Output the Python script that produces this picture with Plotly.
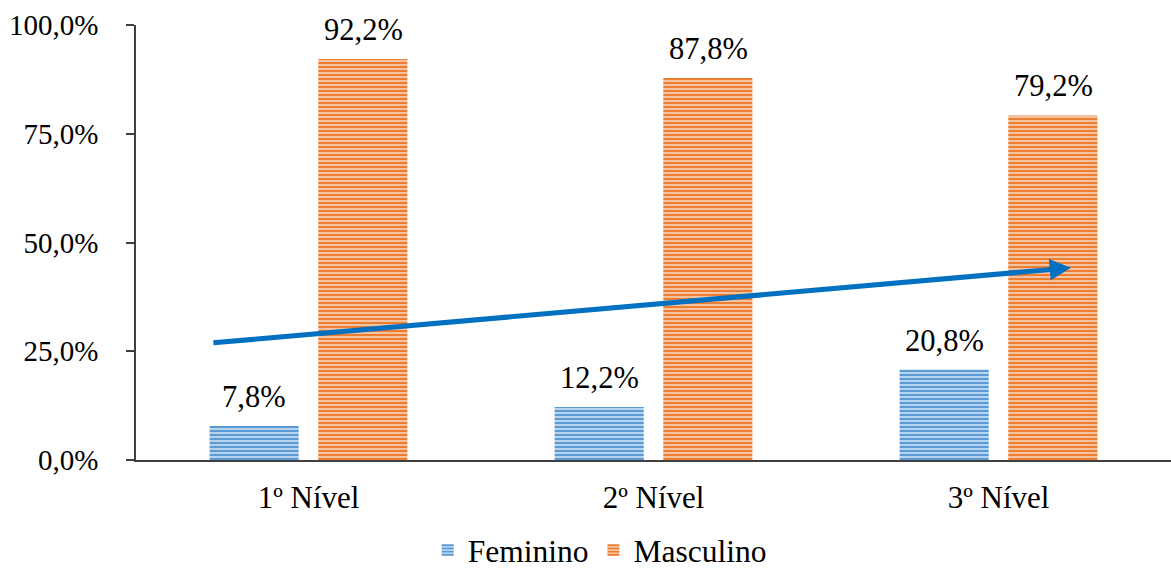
import plotly.graph_objects as go

categories = ["1º Nível", "2º Nível", "3º Nível"]
feminino = [7.8, 12.2, 20.8]
masculino = [92.2, 87.8, 79.2]
y_ticks = [0, 25, 50, 75, 100]
y_tick_labels = ["0,0%", "25,0%", "50,0%", "75,0%", "100,0%"]

# trend arrow (category index, percent)
arrow_start = (-0.28, 26.9)
arrow_end = (2.21, 44.2)

FONT = "Liberation Serif, Times New Roman, serif"

fig = go.Figure()
fig.add_trace(go.Bar(
    x=categories, y=feminino, name="Feminino",
    marker=dict(color="#5B9BD5", line=dict(width=0),
                pattern=dict(shape="-", fgcolor="#5B9BD5", bgcolor="#C5DAF0",
                             size=4, solidity=0.55, fillmode="replace")),
))
fig.add_trace(go.Bar(
    x=categories, y=masculino, name="Masculino",
    marker=dict(color="#ED7D31", line=dict(width=0),
                pattern=dict(shape="-", fgcolor="#ED7D31", bgcolor="#F8CBAD",
                             size=4, solidity=0.55, fillmode="replace")),
))

# value labels above each bar
for series, shift in ((feminino, -54.5), (masculino, 54.5)):
    for cat, val in zip(categories, series):
        fig.add_annotation(
            x=cat, y=val, xref="x", yref="y",
            text=f"{val:.1f}%".replace(".", ","),
            showarrow=False, xshift=shift, yanchor="bottom", yshift=10,
            font=dict(family=FONT, size=30.5, color="#000000"),
        )

fig.add_annotation(
    x=arrow_end[0], y=arrow_end[1], ax=arrow_start[0], ay=arrow_start[1],
    xref="x", yref="y", axref="x", ayref="y",
    showarrow=True, arrowhead=2, arrowsize=0.85, arrowwidth=5,
    arrowcolor="#0070C0", text="",
)

fig.update_layout(
    width=1171, height=571,
    margin=dict(l=136, r=0, t=25, b=111, autoexpand=False),
    paper_bgcolor="white", plot_bgcolor="white",
    separators=",.",
    barmode="group", bargap=0.37, bargroupgap=0.18,
    font=dict(family=FONT, size=29, color="#000000"),
    showlegend=True,
    legend=dict(orientation="h", x=0.448, xanchor="center", y=-0.145, yanchor="top",
                font=dict(family=FONT, size=31.5, color="#000000"),
                traceorder="normal", itemwidth=30, tracegroupgap=0),
)
fig.update_xaxes(
    showline=True, linecolor="#404040", linewidth=1.5,
    ticks="", tickfont=dict(family=FONT, size=31, color="#000000"),
    ticklabelstandoff=9,
    showgrid=False, zeroline=False,
)
fig.update_yaxes(
    range=[0, 100], tickvals=y_ticks, ticktext=y_tick_labels,
    showline=True, linecolor="#404040", linewidth=1.5,
    ticks="outside", ticklen=8, tickcolor="#404040", tickwidth=1.5,
    tickfont=dict(family=FONT, size=29, color="#000000"),
    ticklabelstandoff=22,
    showgrid=False, zeroline=False,
)

fig.write_html("out.html")
